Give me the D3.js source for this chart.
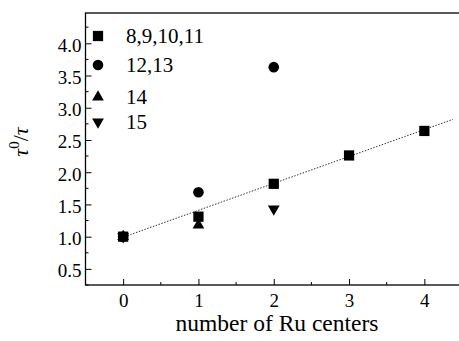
<!DOCTYPE html>
<html>
	<head>
		<meta charset="utf-8">
		<title>tau0/tau vs number of Ru centers</title>
		<script src="https://cdn.jsdelivr.net/npm/d3@7"></script>
		<style>
			body { margin: 0; background: #fff; }
			svg, svg text { font-family: "Liberation Serif", "DejaVu Serif", serif; }
		</style>
	</head>
	<body>
		<div id="root"></div>
		<script>
			//series
			const squareX = [0, 1, 2, 3, 4];
			const squareY = [1.0, 1.31, 1.82, 2.26, 2.64];
			const circleX = [0, 1, 2];
			const circleY = [1.0, 1.69, 3.63];
			const triUpX = [0, 1];
			const triUpY = [1.0, 1.18];
			const triDownX = [0, 2];
			const triDownY = [1.0, 1.43];

			//dotted fit line ends
			const fitX = [0.02, 4.38];
			const fitY = [1.0, 2.82];

			const legendLabels = ["8,9,10,11", "12,13", "14", "15"];
			const xTicks = [0, 1, 2, 3, 4];
			const yTicks = [0.5, 1.0, 1.5, 2.0, 2.5, 3.0, 3.5, 4.0];

			const width = 459;
			const height = 341;
			const padL = 85.5, padT = 13, padB = 285, padR = 462;
			const serif = "Liberation Serif";

			const x = d3.scaleLinear().domain([-0.5, 4.5]).range([padL, padR]);
			const y = d3.scaleLinear().domain([0.25, 4.47]).range([padB, padT]);

			const svg = d3.select("#root").append("svg")
				.attr("width", width)
				.attr("height", height);

			//frame
			svg.append("rect")
				.attr("x", padL).attr("y", padT)
				.attr("width", padR - padL).attr("height", padB - padT)
				.attr("fill", "none").attr("stroke", "#000").attr("stroke-width", 1.3);

			//x axis, ticks inward
			const xAxis = d3.axisBottom(x).tickValues(xTicks).tickSize(-6).tickPadding(9)
				.tickFormat(d3.format("d"));
			const gx = svg.append("g").attr("transform", "translate(0," + padB + ")").call(xAxis)
				.attr("font-family", null);
			gx.select(".domain").remove();
			gx.selectAll("text").attr("fill", "#000")
				.style("font-family", serif).style("font-size", "19px");

			const xMinor = d3.range(-0.5, 4.51, 0.5).filter(v => xTicks.indexOf(v) < 0);
			svg.selectAll(".xminor").data(xMinor).enter().append("line")
				.attr("x1", d => x(d)).attr("x2", d => x(d))
				.attr("y1", padB).attr("y2", padB - 3)
				.attr("stroke", "#000");

			//y axis, ticks inward
			const yAxis = d3.axisLeft(y).tickValues(yTicks).tickSize(-6).tickPadding(4)
				.tickFormat(d3.format(".1f"));
			const gy = svg.append("g").attr("transform", "translate(" + padL + ",0)").call(yAxis)
				.attr("font-family", null);
			gy.select(".domain").remove();
			gy.selectAll("text").attr("fill", "#000").attr("dy", "0.42em")
				.style("font-family", serif).style("font-size", "19px");

			const yMinor = d3.range(0.25, 4.5, 0.5);
			svg.selectAll(".yminor").data(yMinor).enter().append("line")
				.attr("x1", padL).attr("x2", padL + 3)
				.attr("y1", d => y(d)).attr("y2", d => y(d))
				.attr("stroke", "#000");

			//fit line
			svg.append("line")
				.attr("x1", x(fitX[0])).attr("y1", y(fitY[0]))
				.attr("x2", x(fitX[1])).attr("y2", y(fitY[1]))
				.attr("stroke", "#333").attr("stroke-width", 1)
				.attr("stroke-dasharray", "1.5,1.5");

			//markers
			const sym = {
				square: d3.symbol().type(d3.symbolSquare).size(105),
				circle: d3.symbol().type(d3.symbolCircle).size(88),
				triUp: d3.symbol().type(d3.symbolTriangle).size(60),
				triDown: d3.symbol().type(d3.symbolTriangle).size(60)
			};
			function drawSeries(xs, ys, key) {
				svg.selectAll(".m-" + key).data(xs).enter().append("path")
					.attr("d", sym[key])
					.attr("transform", (d, i) => "translate(" + x(d) + "," + y(ys[i]) + ")" +
						(key === "triDown" ? " rotate(180)" : ""))
					.attr("fill", "#000");
			}
			drawSeries(triUpX, triUpY, "triUp");
			drawSeries(triDownX, triDownY, "triDown");
			drawSeries(circleX, circleY, "circle");
			drawSeries(squareX, squareY, "square");

			//legend
			const keys = ["square", "circle", "triUp", "triDown"];
			const legendRowY = [36, 65, 97, 122];
			keys.forEach((k, i) => {
				svg.append("path").attr("d", sym[k])
					.attr("transform", "translate(98," + legendRowY[i] + ")" + (k === "triDown" ? " rotate(180)" : ""))
					.attr("fill", "#000");
				svg.append("text")
					.attr("x", 126).attr("y", legendRowY[i] + 7)
					.style("font-family", serif).style("font-size", "21px")
					.text(legendLabels[i]);
			});

			//x axis title
			svg.append("text")
				.attr("x", 277).attr("y", 331)
				.attr("text-anchor", "middle")
				.style("font-family", serif).style("font-size", "23.5px")
				.text("number of Ru centers");

			//y axis title: tau^0 / tau
			const yt = svg.append("text")
				.attr("transform", "translate(28,142) rotate(-90)")
				.attr("text-anchor", "middle")
				.style("font-family", serif).style("font-size", "22px");
			yt.append("tspan").attr("font-style", "italic").text("τ");
			yt.append("tspan").style("font-size", "15px").attr("dy", -9).text("0");
			yt.append("tspan").attr("dy", 9).text("/");
			yt.append("tspan").attr("font-style", "italic").text("τ");
		</script>
	</body>
</html>
